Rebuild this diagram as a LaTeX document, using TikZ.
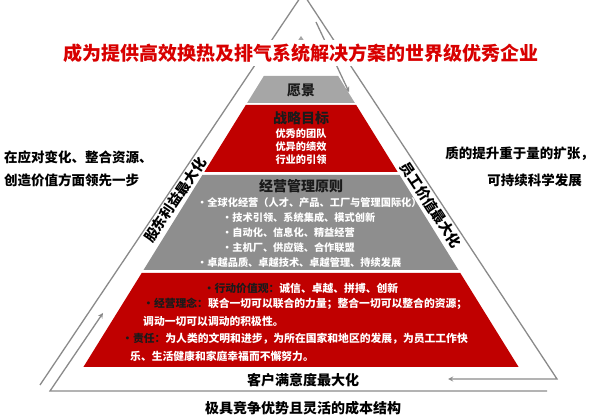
\documentclass[tikz,border=0pt]{standalone}
\usepackage{fontspec}
\setmainfont{Noto Sans CJK SC}
\usepackage{tikz}
\usetikzlibrary{arrows,positioning,calc}

\definecolor{bandred}{HTML}{C00000}
\definecolor{titlered}{HTML}{D80000}
\definecolor{lightgray}{HTML}{A6A6A6}
\definecolor{midgray}{HTML}{8E8E8E}
\definecolor{linegray}{HTML}{8A8A8A}
\definecolor{textdark}{HTML}{1A1A1A}

\newcommand{\keyword}[1]{{\color{textdark}#1}}

\begin{document}
\begin{tikzpicture}[
    x=1pt, y=-1pt,
    frame/.style={draw=linegray, line width=1.3pt},
    arrow/.style={->, >=stealth, draw=linegray, line width=1.3pt},
    heading/.style={font=\fontsize{14}{16}\selectfont\bfseries, text=textdark, inner sep=0pt},
    item/.style={font=\fontsize{10.2}{12}\selectfont\bfseries, text=white, inner sep=0pt},
    duty/.style={font=\fontsize{10.8}{12}\selectfont\bfseries, text=white, inner sep=0pt},
    side/.style={font=\fontsize{13.5}{15}\selectfont\bfseries, text=black, inner sep=0pt},
    edgelabel/.style={font=\fontsize{14}{16}\selectfont\bfseries, text=black, fill=white, inner sep=1pt}
]

\useasboundingbox (0,0) rectangle (600,419);

% Outer triangle with circulation arrows
\coordinate (topL) at (300,-2);
\coordinate (topR) at (306,-2);
\coordinate (baseL) at (40,385);
\coordinate (baseR) at (557,379);
\coordinate (custEnd) at (448,379);
\coordinate (floorR) at (547,391);
\coordinate (floorL) at (50,391);
\coordinate (upEnd) at (103,313);
\coordinate (downStart) at (316,22);
\coordinate (downEnd) at (349,92);

\draw[frame] (baseL) -- (topL);
\draw[arrow] (topR) -- (baseR) -- (custEnd);
\draw[arrow] (floorR) -- (floorL) -- (upEnd);
\draw[arrow] (downStart) -- (downEnd);

% Pyramid layers
\fill[lightgray] (301,36) -- (307,45) -- (295,45) -- cycle;
\fill[lightgray] (263.8,76) -- (338.2,76) -- (354.9,103) -- (247.1,103) -- cycle;
\fill[bandred] (245.8,105) -- (356.2,105) -- (397.7,172) -- (204.3,172) -- cycle;
\fill[midgray] (202.4,175) -- (399.6,175) -- (458.5,270) -- (143.5,270) -- cycle;
\fill[bandred] (141.7,273) -- (460.3,273) -- (518.6,367) -- (83.4,367) -- cycle;

% Title
\node[font=\fontsize{19}{21}\selectfont\bfseries, text=titlered, fill=white,
      inner xsep=5pt, minimum height=24pt] (title) at (301,53)
      {成为提供高效换热及排气系统解决方案的世界级优秀企业};

% Vision and goals
\node[heading] (vision) at (301,90) {愿景};
\node[heading] (goal) at (301,118) {战略目标};
\node[item] (goal1) at (301,134) {优秀的团队};
\node[item] (goal2) at (301,147) {优异的绩效};
\node[item] (goal3) at (301,160) {行业的引领};

% Management principles
\node[heading] (principle) at (301,186) {经营管理原则};
\node[item, anchor=west] (rule1) at (197,203) {·全球化经营（人才、产品、工厂与管理国际化）};
\node[item, anchor=west] (rule2) at (222,218) {·技术引领、系统集成、模式创新};
\node[item, anchor=west] (rule3) at (222,233) {·自动化、信息化、精益经营};
\node[item, anchor=west] (rule4) at (222,248) {·主机厂、供应链、合作联盟};
\node[item, anchor=west] (rule5) at (197,263) {·卓越品质、卓越技术、卓越管理、持续发展};

% Values, philosophy and responsibility
\node[duty] (values) at (301,288) {\keyword{·行动价值观：}诚信、卓越、拼搏、创新};
\node[duty, anchor=west] (idea1) at (143,304) {\keyword{·经营理念：}联合一切可以联合的力量；整合一切可以整合的资源；};
\node[duty, anchor=west] (idea2) at (143,321) {调动一切可以调动的积极性。};
\node[duty, anchor=west] (duty1) at (122,339) {\keyword{·责任：}为人类的文明和进步，为所在国家和地区的发展，为员工工作快};
\node[duty, anchor=west] (duty2) at (130,356) {乐、生活健康和家庭幸福而不懈努力。};

% Labels along the triangle
\node[edgelabel, rotate=56] (holder) at (175,200) {股东利益最大化};
\node[edgelabel, rotate=-56.6] (staff) at (431,205) {员工价值最大化};
\node[heading, text=black] (customer) at (303,380) {客户满意度最大化};
\node[heading, text=black] (cost) at (303,408) {极具竞争优势且灵活的成本结构};

% Side statements
\node[side, anchor=west] (left1) at (4,157) {在应对变化、整合资源、};
\node[side, anchor=west] (left2) at (4,180) {创造价值方面领先一步};
\node[side, anchor=east] (right1) at (594,154) {质的提升重于量的扩张，};
\node[side, anchor=east] (right2) at (582,180) {可持续科学发展};

\end{tikzpicture}
\end{document}
